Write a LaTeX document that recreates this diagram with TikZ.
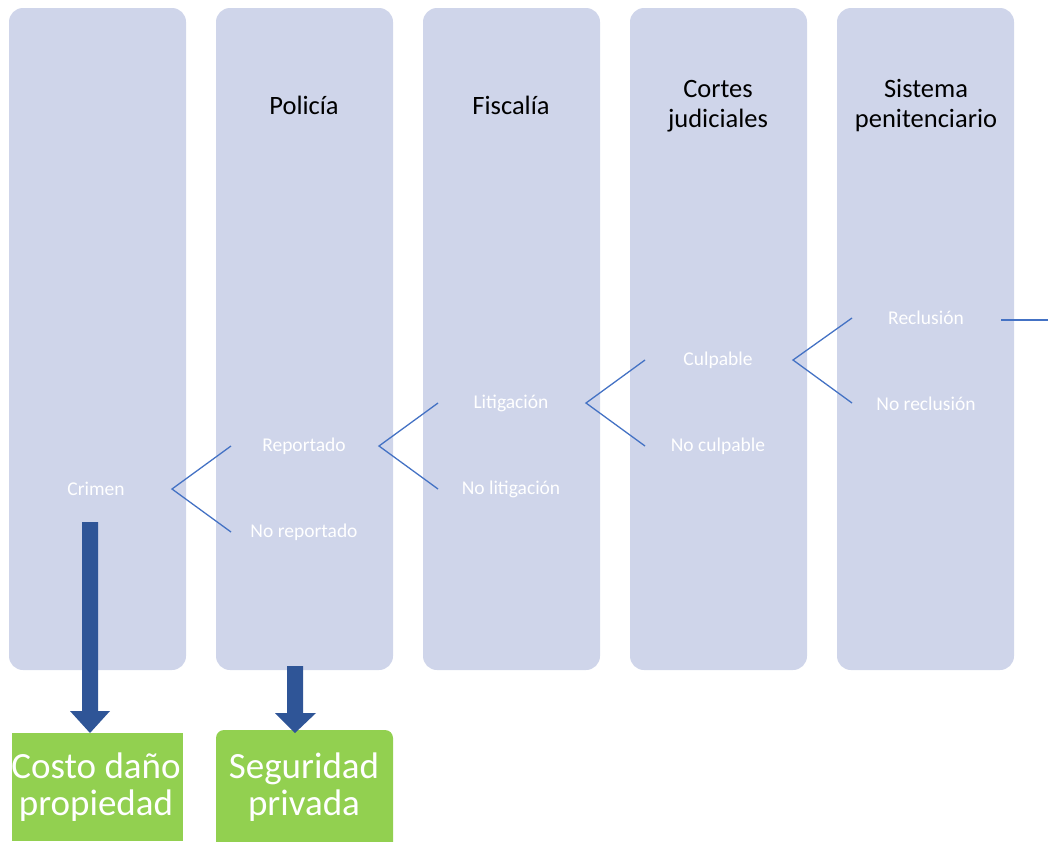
\documentclass[tikz,border=0pt]{standalone}
\usepackage{fontspec}
\setmainfont{Carlito}
\definecolor{lane}{HTML}{CFD5EA}
\definecolor{green}{HTML}{92D050}
\definecolor{darrow}{HTML}{2F5597}
\definecolor{lineblue}{HTML}{4472C4}
\tikzset{
  lanebox/.style={fill=lane, draw=none, rounded corners=14pt},
  head/.style={text=black, font=\fontsize{26.5}{30}\selectfont, align=center},
  lab/.style={text=white, font=\fontsize{19.5}{22}\selectfont},
  branch/.style={draw=lineblue, line width=1.3pt},
  greenbox/.style={fill=green, draw=none},
  bigtxt/.style={text=white, font=\fontsize{37}{37}\selectfont, align=center, inner sep=0pt},
  fat/.style={fill=darrow, draw=none}
}
\begin{document}
\begin{tikzpicture}[x=1pt,y=-1pt]
\useasboundingbox (0,0) rectangle (1048,841);
\clip (0,0) rectangle (1048,841);
% lanes
\foreach \i/\x in {1/9,2/216,3/423,4/630,5/837}{
  \path[lanebox] (\x,8) rectangle ++(177,662);
}
% headers
\node[head] (h2) at (304,105) {Policía};
\node[head] (h3) at (511,105) {Fiscalía};
\node[head] (h4) at (718,106) {Cortes\\judiciales};
\node[head] (h5) at (926,106) {Sistema\\penitenciario};
% labels
\node[lab] (crimen) at (96,489) {Crimen};
\node[lab] (rep) at (304,446) {Reportado};
\node[lab] (norep) at (304,532) {No reportado};
\node[lab] (lit) at (511,403) {Litigación};
\node[lab] (nolit) at (511,489) {No litigación};
\node[lab] (cul) at (718,360) {Culpable};
\node[lab] (nocul) at (718,446) {No culpable};
\node[lab] (rec) at (926,318) {Reclusión};
\node[lab] (norec) at (926,404) {No reclusión};
% fork coordinates
\coordinate (f1) at (172,489);
\coordinate (a1) at (231,446);
\coordinate (b1) at (231,532);
\coordinate (f2) at (379,446);
\coordinate (a2) at (438,403);
\coordinate (b2) at (438,489);
\coordinate (f3) at (586,403);
\coordinate (a3) at (645,360);
\coordinate (b3) at (645,446);
\coordinate (f4) at (793,360);
\coordinate (a4) at (852,318);
\coordinate (b4) at (852,403);
\coordinate (r1) at (1001,320);
\coordinate (r2) at (1048,320);
\draw[branch] (a1) -- (f1) -- (b1);
\draw[branch] (a2) -- (f2) -- (b2);
\draw[branch] (a3) -- (f3) -- (b3);
\draw[branch] (a4) -- (f4) -- (b4);
\draw[branch] (r1) -- (r2);
% green boxes
\path[greenbox] (12,733) rectangle (183,841);
\path[greenbox, rounded corners=8pt] (216,730) rectangle (393,860);
\node[bigtxt] (costo) at (96,787) {Costo daño\\propiedad};
\node[bigtxt] (seg) at (304,787) {Seguridad\\privada};
% big arrows
\path[fat] (82,522) -- (98,522) -- (98,711) -- (110,711) -- (90,733) -- (70,711) -- (82,711) -- cycle;
\path[fat] (287,666) -- (303,666) -- (303,713) -- (316,713) -- (295,733) -- (275,713) -- (287,713) -- cycle;
\end{tikzpicture}
\end{document}
